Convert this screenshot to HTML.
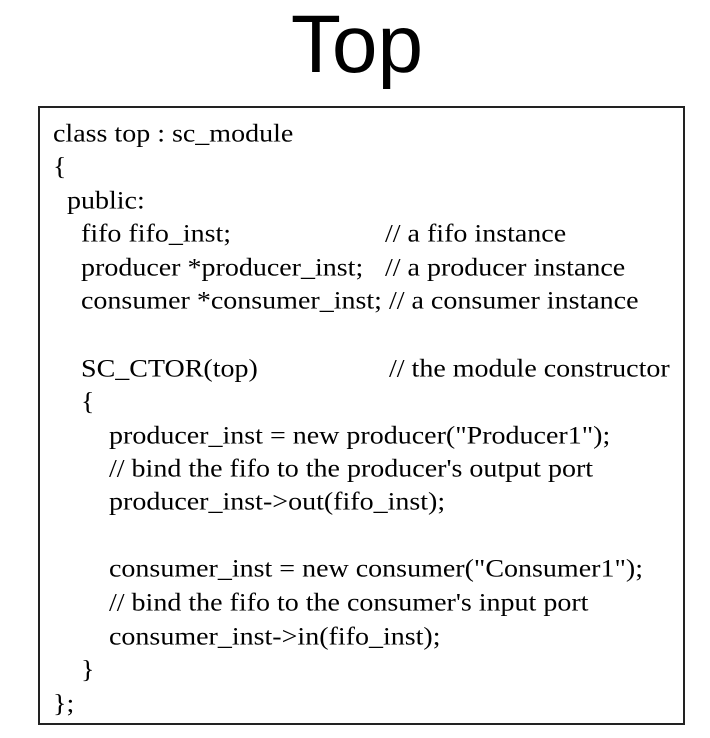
<!DOCTYPE html>
<html><head><meta charset="utf-8"><style>
body{margin:0;width:710px;height:738px;background:#fff;position:relative;overflow:hidden}
.t{position:absolute;left:0;width:714px;text-align:center;top:-2px;font:82px "Liberation Sans",sans-serif;color:#000}
.box{position:absolute;left:38px;top:106px;width:643px;height:615px;border:2px solid #222}
.l{position:absolute;font:28px "Liberation Serif",serif;color:#000;white-space:pre;line-height:30px;transform:scaleY(0.92);transform-origin:0 50%}
</style></head><body>
<div class="t">Top</div>
<div class="box"></div>
<div class="l" style="left:53px;top:119px">class top : sc_module</div>
<div class="l" style="left:53px;top:152px">{</div>
<div class="l" style="left:67px;top:186px">public:</div>
<div class="l" style="left:81px;top:219px">fifo fifo_inst;</div>
<div class="l" style="left:385px;top:219px">// a fifo instance</div>
<div class="l" style="left:81px;top:253px">producer *producer_inst;</div>
<div class="l" style="left:385px;top:253px">// a producer instance</div>
<div class="l" style="left:81px;top:286px">consumer *consumer_inst; // a consumer instance</div>
<div class="l" style="left:81px;top:354px">SC_CTOR(top)</div>
<div class="l" style="left:389px;top:354px">// the module constructor</div>
<div class="l" style="left:81px;top:387px">{</div>
<div class="l" style="left:109px;top:421px">producer_inst = new producer("Producer1");</div>
<div class="l" style="left:109px;top:454px">// bind the fifo to the producer's output port</div>
<div class="l" style="left:109px;top:487px">producer_inst-&gt;out(fifo_inst);</div>
<div class="l" style="left:109px;top:554px">consumer_inst = new consumer("Consumer1");</div>
<div class="l" style="left:109px;top:588px">// bind the fifo to the consumer's input port</div>
<div class="l" style="left:109px;top:622px">consumer_inst-&gt;in(fifo_inst);</div>
<div class="l" style="left:81px;top:655px">}</div>
<div class="l" style="left:53px;top:689px">};</div>
</body></html>
